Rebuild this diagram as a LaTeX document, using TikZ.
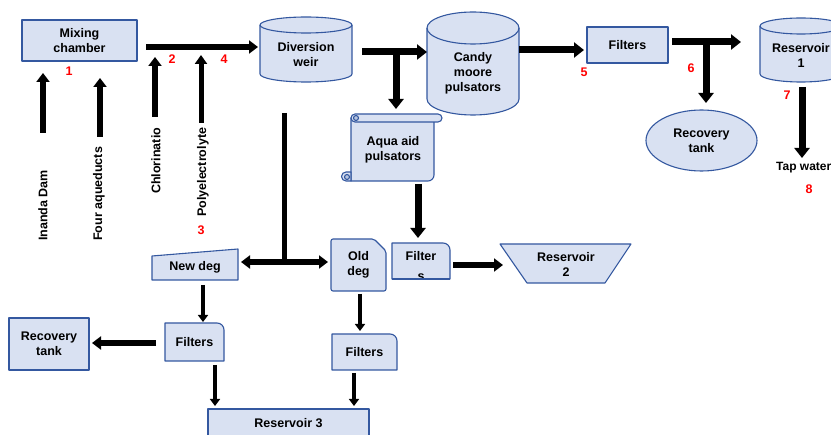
\documentclass[tikz,border=0pt]{standalone}
\usepackage{fontspec}
\setmainfont{Liberation Sans}
\usetikzlibrary{arrows.meta,shapes.geometric}
\definecolor{boxfill}{RGB}{217,225,242}
\definecolor{boxline}{RGB}{52,88,160}
\definecolor{numred}{RGB}{255,0,0}
\newcommand\mycyl[5]{%
  \pgfmathsetmacro\rx{(#2-#1)/2}%
  \filldraw[shp] (#1,#3+#5) -- (#1,#4-#5) arc[start angle=180,end angle=360,x radius=\rx pt,y radius=#5pt] -- (#2,#3+#5) arc[start angle=0,end angle=180,x radius=\rx pt,y radius=#5pt] -- cycle;
  \draw[shp,fill=none] (#1,#3+#5) arc[start angle=180,end angle=360,x radius=\rx pt,y radius=#5pt];
}
\begin{document}
\begin{tikzpicture}[x=1pt,y=-1pt,
  shp/.style={fill=boxfill,draw=boxline,line width=1.1pt,line join=round},
  lbl/.style={font=\bfseries\fontsize{12.5}{15}\selectfont,align=center,text=black,inner sep=0pt},
  vlbl/.style={font=\bfseries\fontsize{12.5}{15}\selectfont,text=black,inner sep=0pt,rotate=90,anchor=west},
  num/.style={font=\bfseries\fontsize{12.5}{14}\selectfont,text=numred,inner sep=0pt},
  big/.style={line width=7pt,-{Triangle[length=10pt,width=15pt]}},
  mid/.style={line width=6pt,-{Triangle[length=9pt,width=13pt]}},
  sml/.style={line width=4pt,-{Triangle[length=7pt,width=10pt]}},
  dbl/.style={line width=6pt,{Triangle[length=9pt,width=13pt]}-{Triangle[length=9pt,width=13pt]}},
]
\useasboundingbox (0,0) rectangle (831,435);
\clip (0,0) rectangle (831,435);
\fill[white] (0,0) rectangle (831,435);

% ---------- top row ----------
\node[shp,lbl,minimum width=115pt,minimum height=41pt] (mix) at (79.5,40.5) {Mixing\\chamber};
\node[num] (n1) at (69,71) {1};

\node[vlbl] (inanda) at (43,241) {Inanda Dam};
\node[vlbl] (aqued) at (99,241) {Four aqueducts};
\node[vlbl] (chlor) at (156,194) {Chlorinatio};
\node[vlbl] (poly) at (203,217) {Polyelectrolyte};
\node[num] (n3) at (201,230) {3};
\node[num] (n2) at (172,59) {2};
\node[num] (n4) at (224,59) {4};

\coordinate (i0) at (43,133); \coordinate (i1) at (43,73);
\coordinate (a0) at (100,137); \coordinate (a1) at (100,78);
\coordinate (c0) at (155,117); \coordinate (c1) at (155,57);
\coordinate (p0) at (201,123); \coordinate (p1) at (201,55);
\draw[mid] (i0) -- (i1);
\draw[mid] (a0) -- (a1);
\draw[mid] (c0) -- (c1);
\draw[line width=5pt,-{Triangle[length=9pt,width=12pt]}] (p0) -- (p1);

\coordinate (m0) at (146,47); \coordinate (m1) at (258,47);
\draw[mid] (m0) -- (m1);

\mycyl{260}{352}{17}{82}{8}
\node[lbl] (weir) at (306,55) {Diversion\\weir};

\mycyl{427}{519}{12}{115}{16}
\node[lbl] (candy) at (473,73) {Candy\\moore\\pulsators};

\coordinate (w0) at (362,52); \coordinate (w1) at (427,52);
\coordinate (wj) at (396,52); \coordinate (w2) at (396,109);
\draw[big] (w0) -- (w1);
\draw[big] (wj) -- (w2);

\coordinate (k0) at (519,50); \coordinate (k1) at (584,50);
\draw[big] (k0) -- (k1);
\node[shp,lbl,minimum width=81pt,minimum height=36pt] (filt1) at (627.5,45) {Filters};
\node[num] (n5) at (584,72) {5};

\coordinate (f0) at (672,42); \coordinate (f1) at (741,42);
\coordinate (fj) at (706,42); \coordinate (f2) at (706,103);
\draw[big] (f0) -- (f1);
\draw[big] (fj) -- (f2);
\node[num] (n6) at (691,68) {6};

\node[shp,lbl,ellipse,minimum width=111pt,minimum height=61pt] (rec1) at (701.5,140.5) {Recovery\\tank};

\mycyl{760}{842}{18}{82}{8}
\node[lbl] (res1) at (801,55) {Reservoir\\1};
\node[num] (n7) at (787,95) {7};
\coordinate (t0) at (802,87); \coordinate (t1) at (802,158);
\draw[big] (t0) -- (t1);
\node[font=\bfseries\fontsize{12}{14}\selectfont,inner sep=0pt,anchor=west] (tap) at (776,168) {Tap water};
\node[num] (n8) at (809,189) {8};

% ---------- scroll ----------
\filldraw[shp] (351,118) -- (351,181) -- (428,181) arc[start angle=270,end angle=360,radius=6pt] -- (434,118) -- cycle;
\filldraw[shp] (355,114) -- (438,114) arc[start angle=90,end angle=-90,radius=4pt] -- (355,122) arc[start angle=270,end angle=90,radius=4pt] -- cycle;
\filldraw[shp,fill=boxline!35] (356,118) circle[radius=2.5pt];
\filldraw[shp] (351,172) -- (346,172) arc[start angle=90,end angle=270,radius=4.5pt] -- (351,181) -- cycle;
\filldraw[shp,fill=boxline!35] (347,177) circle[radius=2.5pt];
\node[lbl] (aqua) at (393,150) {Aqua aid\\pulsators};

\coordinate (q0) at (418,184); \coordinate (q1) at (418,238);
\draw[big] (q0) -- (q1);

% ---------- middle row ----------
\coordinate (v0) at (284,113); \coordinate (vj) at (284,262);
\coordinate (d0) at (241,262); \coordinate (d1) at (328,262);
\draw[line width=5pt] (v0) -- (vj);
\draw[dbl] (d0) -- (d1);

\filldraw[shp] (152,256) -- (238,249) -- (238,280) -- (152,280) -- cycle;
\node[lbl] (newdeg) at (195,267) {New deg};

\filldraw[shp,rounded corners=2pt] (331,291) -- (331,239) -- (374,239) -- (386,251) -- (386,291) -- cycle;
\node[lbl] (olddeg) at (358.5,265) {Old\\deg};

\filldraw[shp] (392,279) -- (392,243) -- (443,243) arc[start angle=90,end angle=0,radius=7pt] -- (450,279) -- cycle;
\begin{scope}
  \clip (392,243) rectangle (450,279);
  \node[font=\bfseries\fontsize{12.5}{20}\selectfont,align=center,inner sep=0pt,anchor=north] (filtS) at (421,251) {Filter\\s};
\end{scope}
\draw[shp,fill=none] (392,279) -- (450,279);

\coordinate (r0) at (453,265); \coordinate (r1) at (503,265);
\draw[mid] (r0) -- (r1);
\filldraw[shp] (500,244) -- (631,244) -- (605,283) -- (527,283) -- cycle;
\node[lbl] (res2) at (566,264) {Reservoir\\2};

% ---------- bottom ----------
\coordinate (o0) at (360,294); \coordinate (o1) at (360,331);
\draw[sml] (o0) -- (o1);
\filldraw[shp] (332,370) -- (332,334) -- (390,334) arc[start angle=90,end angle=0,radius=7pt] -- (397,370) -- cycle;
\node[lbl] (filt2) at (364.5,352) {Filters};

\coordinate (e0) at (203,285); \coordinate (e1) at (203,322);
\draw[sml] (e0) -- (e1);
\filldraw[shp] (165,361) -- (165,323) -- (217,323) arc[start angle=90,end angle=0,radius=7pt] -- (224,361) -- cycle;
\node[lbl] (filt3) at (194.5,342) {Filters};

\coordinate (g0) at (156,343); \coordinate (g1) at (92,343);
\draw[mid] (g0) -- (g1);
\node[shp,lbl,minimum width=80pt,minimum height=52pt] (rec2) at (49,344) {Recovery\\tank};

\coordinate (h0) at (215,365); \coordinate (h1) at (215,406);
\coordinate (j0) at (354,373); \coordinate (j1) at (354,406);
\draw[sml] (h0) -- (h1);
\draw[sml] (j0) -- (j1);
\filldraw[shp] (208,445) -- (208,409) -- (369,409) -- (369,445) -- cycle;
\node[lbl] (res3) at (288.5,423) {Reservoir 3};
\end{tikzpicture}
\end{document}
